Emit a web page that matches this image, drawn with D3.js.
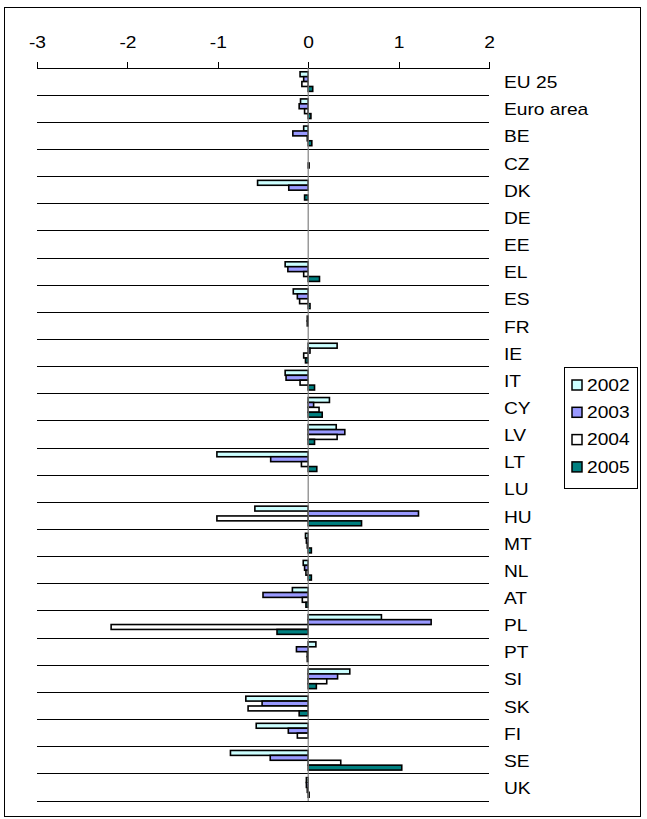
<!DOCTYPE html>
<html>
<head>
<meta charset="utf-8">
<script src="https://cdn.jsdelivr.net/npm/d3@7"></script>
<style>
    body { margin: 0; background: #fff; }
    text { font-family: Arial, "Liberation Sans", sans-serif; }
</style>
</head>
<body>
<svg id="chart" width="647" height="819"></svg>
<script>
var categories = ["EU 25", "Euro area", "BE", "CZ", "DK", "DE", "EE", "EL", "ES", "FR", "IE", "IT", "CY", "LV", "LT", "LU", "HU", "MT", "NL", "AT", "PL", "PT", "SI", "SK", "FI", "SE", "UK"];
var years = ["2002", "2003", "2004", "2005"];

// null = no bar drawn
var v2002 = [-0.09, -0.085, -0.05, null, -0.56, null, null, -0.255, -0.165, -0.01, 0.32, -0.255, 0.235, 0.31, -1.01, null, -0.59, -0.03, -0.055, -0.175, 0.81, 0.085, 0.46, -0.69, -0.575, -0.86, -0.02];
var v2003 = [-0.05, -0.1, -0.17, null, -0.215, null, null, -0.225, -0.12, -0.01, 0.02, -0.245, 0.06, 0.405, -0.415, null, 1.22, -0.02, -0.04, -0.5, 1.36, -0.13, 0.325, -0.51, -0.22, -0.42, -0.02];
var v2004 = [-0.07, -0.04, -0.01, 0.01, 0, null, null, -0.05, -0.095, 0, -0.05, -0.09, 0.12, 0.32, -0.075, null, -1.01, -0.01, -0.025, -0.065, -2.18, -0.01, 0.205, -0.665, -0.12, 0.36, -0.01];
var v2005 = [0.05, 0.03, 0.04, null, -0.04, null, null, 0.125, 0.02, 0, -0.03, 0.07, 0.155, 0.07, 0.095, null, 0.59, 0.035, 0.035, -0.025, -0.345, -0.01, 0.09, -0.1, 0, 1.035, 0.01];

var xTicks = [-3, -2, -1, 0, 1, 2];
var colors = ["#ccffff", "#9999ff", "#ffffff", "#008080"];

var series = [v2002, v2003, v2004, v2005];

// the original text is a bit wider than plain Arial
var stretch = "scale(1.2,1)";

var svg = d3.select("#chart");

// outer frame
svg.append("rect")
    .attr("x", 4.5).attr("y", 7.5)
    .attr("width", 636).attr("height", 809)
    .attr("fill", "none").attr("stroke", "#000").attr("stroke-width", 1);

var x = d3.scaleLinear().domain([-3, 2]).range([37, 489]);

var y = d3.scaleBand().domain(categories).range([68, 801]).paddingInner(0).paddingOuter(0);

var yInner = d3.scaleBand().domain(years).range([0, y.bandwidth()]).paddingInner(0).paddingOuter(0.77);

// horizontal grid lines at band boundaries
svg.append("g")
    .selectAll("line")
    .data(categories)
    .enter()
    .append("line")
    .attr("x1", x(-3)).attr("x2", x(2))
    .attr("y1", function (d) { return y(d) + y.bandwidth(); })
    .attr("y2", function (d) { return y(d) + y.bandwidth(); })
    .attr("stroke", "#000").attr("stroke-width", 1)
    .attr("shape-rendering", "crispEdges");

// value axis on top
var axis = svg.append("g")
    .attr("transform", "translate(0,68)")
    .call(d3.axisTop(x).tickValues(xTicks).tickSize(6).tickPadding(14).tickFormat(d3.format("d")));

axis.select(".domain").attr("stroke", "#000").attr("shape-rendering", "crispEdges");
axis.selectAll(".tick line").attr("stroke", "#000").attr("shape-rendering", "crispEdges");
axis.selectAll(".tick text")
    .attr("fill", "#000")
    .attr("transform", stretch)
    .style("font-size", "16px")
    .text(function (d) { return d < 0 ? "-" + Math.abs(d) : d; });

// bars
years.forEach(function (yr, i) {
    var vals = series[i];
    svg.append("g")
        .selectAll("rect")
        .data(categories.map(function (c, j) { return { cat: c, v: vals[j] }; }).filter(function (d) { return d.v !== null; }))
        .enter()
        .append("rect")
        .attr("x", function (d) { return Math.min(x(0), x(d.v)); })
        .attr("y", function (d) { return y(d.cat) + yInner(yr); })
        .attr("width", function (d) { return Math.abs(x(d.v) - x(0)); })
        .attr("height", yInner.bandwidth())
        .attr("fill", colors[i])
        .attr("stroke", "#000")
        .attr("stroke-width", 1.6);
});

// zero line
svg.append("line")
    .attr("x1", x(0)).attr("x2", x(0))
    .attr("y1", 68).attr("y2", 801)
    .attr("stroke", "#808080").attr("stroke-width", 1.2);

// category labels
svg.append("g")
    .selectAll("text")
    .data(categories)
    .enter()
    .append("text")
    .attr("transform", function (d) { return "translate(504," + (y(d) + y.bandwidth() / 2 + 1) + ")" + stretch; })
    .attr("dy", "0.35em")
    .style("font-size", "16px")
    .attr("fill", "#000")
    .text(function (d) { return d; });

// legend
var legend = svg.append("g");
legend.append("rect")
    .attr("x", 564.5).attr("y", 367.5)
    .attr("width", 73).attr("height", 121)
    .attr("fill", "#fff").attr("stroke", "#000").attr("stroke-width", 1);

var item = legend.selectAll("g.item")
    .data(years)
    .enter()
    .append("g")
    .attr("class", "item")
    .attr("transform", function (d, i) { return "translate(572," + (385 + i * 27.3) + ")"; });

item.append("rect")
    .attr("x", 0).attr("y", -5)
    .attr("width", 10).attr("height", 10)
    .attr("fill", function (d, i) { return colors[i]; })
    .attr("stroke", "#000").attr("stroke-width", 1.5);

item.append("text")
    .attr("transform", "translate(15,0)" + stretch)
    .attr("dy", "0.35em")
    .style("font-size", "16px")
    .text(function (d) { return d; });
</script>
</body>
</html>
